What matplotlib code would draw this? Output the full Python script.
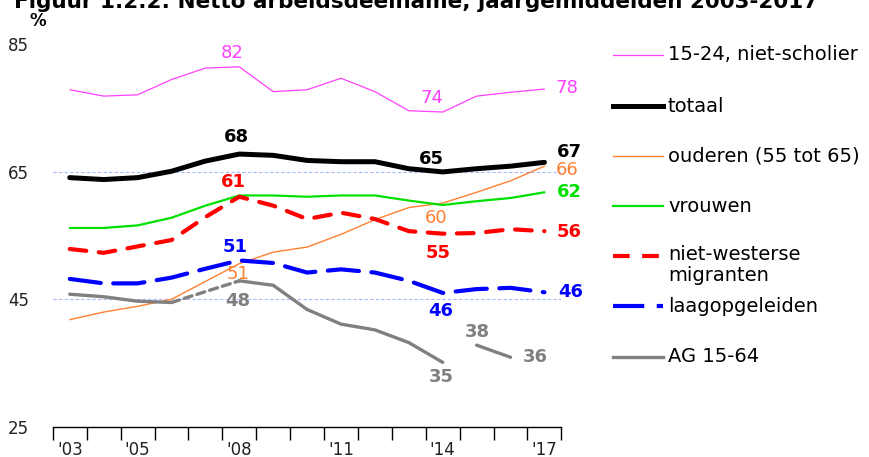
import numpy as np
import matplotlib.pyplot as plt
from matplotlib.lines import Line2D

years = list(range(2003, 2018))
xtick_years = [2003, 2005, 2008, 2011, 2014, 2017]
xtick_labels = ["'03", "'05", "'08", "'11", "'14", "'17"]
yticks = [25, 45, 65, 85]

jong = [77.9, 76.9, 77.1, 79.5, 81.3, 81.5, 77.6, 77.9, 79.7, 77.6, 74.6, 74.4, 76.9, 77.5, 78.0]
totaal = [64.1, 63.8, 64.1, 65.1, 66.7, 67.8, 67.6, 66.8, 66.6, 66.6, 65.5, 65.0, 65.5, 65.9, 66.5]
ouderen = [41.8, 43.0, 43.9, 45.0, 47.8, 50.6, 52.4, 53.2, 55.2, 57.5, 59.4, 60.1, 61.8, 63.6, 65.9]
vrouwen = [56.2, 56.2, 56.6, 57.8, 59.7, 61.3, 61.3, 61.1, 61.3, 61.3, 60.5, 59.8, 60.4, 60.9, 61.8]
migranten = [52.9, 52.3, 53.3, 54.3, 57.9, 61.1, 59.7, 57.6, 58.6, 57.6, 55.7, 55.3, 55.4, 56.0, 55.7]
laag = [48.2, 47.5, 47.5, 48.4, 49.8, 51.1, 50.7, 49.2, 49.7, 49.2, 47.9, 46.0, 46.6, 46.8, 46.1]
ag = [45.8, 45.4, 44.7, 44.5, np.nan, 47.9, 47.2, 43.4, 41.1, 40.2, 38.2, 35.1, 37.8, 35.9, np.nan]
# AG series breaks: solid pieces and a dashed bridge over the missing year
ag_solid = [(2003, 2006), (2008, 2014), (2015, 2016)]
ag_bridge = (2006, 2008)

series = [
    ("15-24, niet-scholier", jong, dict(color="#ff40ff", lw=0.9)),
    ("totaal", totaal, dict(color="black", lw=3.6)),
    ("ouderen (55 tot 65)", ouderen, dict(color="#ff8030", lw=1.0)),
    ("vrouwen", vrouwen, dict(color="#00e000", lw=1.6)),
    ("niet-westerse\nmigranten", migranten, dict(color="#ff0000", lw=3.0, dashes=(4, 3))),
    ("laagopgeleiden", laag, dict(color="#0000ff", lw=3.0, dashes=(7.5, 3))),
    ("AG 15-64", ag, dict(color="#808080", lw=2.4)),
]

# (series index, year, text, dx px, dy px, bold)
labels = [
    (0, 2008, "82", -7, 14, False), (0, 2014, "74", -11, 14, False), (0, 2017, "78", 22, 1, False),
    (1, 2008, "68", -3, 17, True), (1, 2014, "65", -11, 13, True), (1, 2017, "67", 25, 10, True),
    (2, 2008, "51", -1, -10, False), (2, 2014, "60", -7, -15, False), (2, 2017, "66", 23, -4, False),
    (3, 2017, "62", 25, 0, True),
    (4, 2008, "61", -6, 15, True), (4, 2014, "55", -5, -19, True), (4, 2017, "56", 25, -1, True),
    (5, 2008, "51", -4, 13, True), (5, 2014, "46", -2, -18, True), (5, 2017, "46", 26, 0, True),
    (6, 2008, "48", -2, -20, True), (6, 2014, "35", -1, -15, True), (6, 2015, "38", 1, 13, True),
    (6, 2016, "36", 25, 0, True),
]

fig = plt.figure(figsize=(8.69, 4.57), dpi=100)
ax = fig.add_axes([52.8 / 869, 1 - 426.7 / 457, (561.4 - 52.8) / 869, (426.7 - 44.5) / 457])

x = np.arange(len(years))
xi = {y: i for i, y in enumerate(years)}

for yv in yticks[1:]:
    ax.axhline(yv, color="#a8b8ff", lw=0.8, ls=(0, (3, 2)), zorder=0)

for name, vals, st in series[:-1]:
    ax.plot(x, vals, solid_capstyle="round", dash_capstyle="round", **st)

ag_arr = np.array(ag)
gst = series[-1][2]
for a, b in ag_solid:
    sl = slice(xi[a], xi[b] + 1)
    ax.plot(x[sl], ag_arr[sl], color=gst["color"], lw=gst["lw"], solid_capstyle="round")
i0, i1 = xi[ag_bridge[0]], xi[ag_bridge[1]]
ax.plot([x[i0], x[i1]], [ag_arr[i0], ag_arr[i1]], color=gst["color"], lw=gst["lw"],
        dashes=(2.5, 1.5), dash_capstyle="round")

for si, yr, txt, dx, dy, bold in labels:
    st = series[si][2]
    ax.annotate(txt, (x[xi[yr]], series[si][1][xi[yr]]), xytext=(dx, dy), textcoords="offset pixels",
                ha="center", va="center", fontsize=13, color=st["color"],
                fontweight="bold" if bold else "normal")

ax.set_xlim(-0.5, len(years) - 0.5)
ax.set_ylim(25, 85)
ax.set_xticks(np.arange(len(years) + 1) - 0.5)
ax.set_xticklabels([])
ax.set_xticks([xi[y] for y in xtick_years], minor=True)
ax.set_xticklabels(xtick_labels, minor=True, fontsize=12, color="#222222")
ax.tick_params(axis="x", which="major", direction="out", length=9, width=1, color="black")
ax.tick_params(axis="x", which="minor", length=0, pad=10)
ax.set_yticks(yticks)
ax.set_yticklabels([str(v) for v in yticks], fontsize=12, color="#222222")
ax.tick_params(axis="y", length=0, pad=17)
for s in ["left", "right", "top"]:
    ax.spines[s].set_visible(False)
ax.spines["bottom"].set_linewidth(1)

fig.text(38 / 869, 1 - 21.5 / 457, "%", fontsize=12, fontweight="bold", ha="center", va="center")
fig.text(14 / 869, 1 - 7.5 / 457, "Figuur 1.2.2: Netto arbeidsdeelname, jaargemiddelden 2003-2017",
         fontsize=15.5, fontweight="bold", ha="left", va="baseline")

# legend drawn by hand in pixel space
lg = fig.add_axes([0, 0, 1, 1])
lg.set_xlim(0, 869)
lg.set_ylim(457, 0)
lg.axis("off")
rows = [55, 106, 156, 206, 256, 306, 357]
for (name, vals, st), ry in zip(series, rows):
    lg.add_line(Line2D([613, 663], [ry, ry], **st))
    if "\n" in name:
        lg.text(668, ry - 11, name, fontsize=14, ha="left", va="top", linespacing=1.15)
    else:
        lg.text(668, ry, name, fontsize=14, ha="left", va="center")

fig.savefig("out.png", dpi=100)
